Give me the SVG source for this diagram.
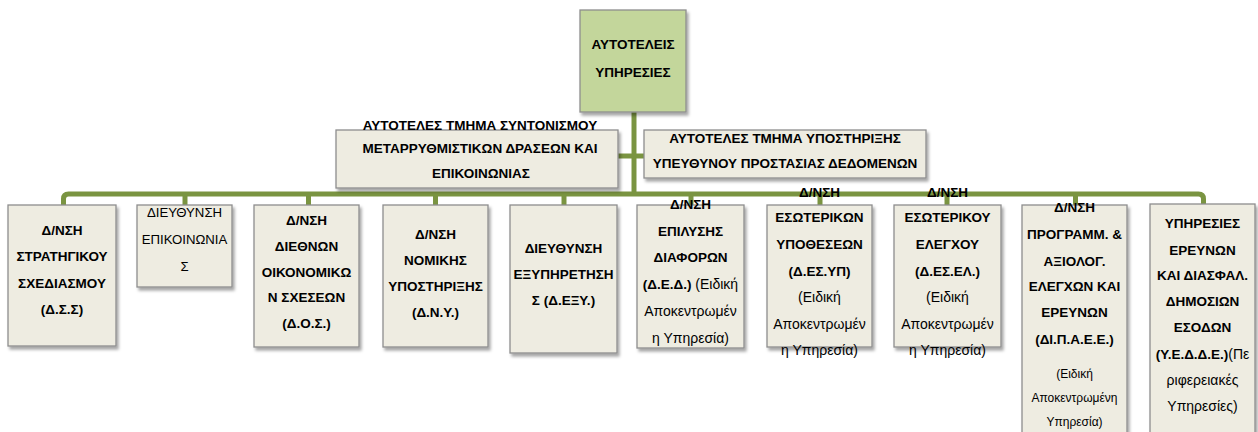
<svg xmlns="http://www.w3.org/2000/svg" width="1258" height="432" viewBox="0 0 1258 432">
<defs>
<filter id="sh" x="-10%" y="-10%" width="130%" height="130%">
<feDropShadow dx="2" dy="3" stdDeviation="1.8" flood-color="#000" flood-opacity="0.35"/>
</filter>
<style>
.box{fill:#EEECE1;stroke:#8E8E8E;stroke-width:1.3;filter:url(#sh)}
.top{fill:#C3D69B;stroke:#8E8E8E;stroke-width:1.3;filter:url(#sh)}
.con{fill:none;stroke:#7A9441;stroke-width:5}
text{font-family:"Liberation Sans",Arial,sans-serif;font-size:13.5px;fill:#000;text-anchor:middle}
.r{font-size:14px}
.r2{font-size:13.2px}
.b{font-weight:bold;font-size:13.5px}
.s{font-size:12px}
</style>
</defs>
<rect width="1258" height="432" fill="#fff"/>
<g id="connectors">
<line class="con" x1="634" y1="112" x2="634" y2="194"/>
<line class="con" x1="618" y1="156" x2="644" y2="156"/>
<path class="con" d="M63.5,205 V199 Q63.5,194 68.5,194 H1198.5 Q1203.5,194 1203.5,199 V205"/>
<line class="con" x1="185" y1="194" x2="185" y2="205"/>
<line class="con" x1="308.5" y1="194" x2="308.5" y2="205"/>
<line class="con" x1="435.5" y1="194" x2="435.5" y2="205"/>
<line class="con" x1="564" y1="194" x2="564" y2="205"/>
<line class="con" x1="691" y1="194" x2="691" y2="205"/>
<line class="con" x1="820" y1="194" x2="820" y2="205"/>
<line class="con" x1="947" y1="194" x2="947" y2="205"/>
<line class="con" x1="1075.5" y1="194" x2="1075.5" y2="205"/>
</g>
<g id="n-top">
<rect class="top" x="580" y="10" width="106" height="102"/>
<text class="b" x="633" y="49">ΑΥΤΟΤΕΛΕΙΣ</text>
<text class="b" x="633" y="77">ΥΠΗΡΕΣΙΕΣ</text>
</g>
<g id="n-mid-left">
<rect class="box" x="336" y="130" width="282" height="58"/>
<text class="b" x="480" y="130">ΑΥΤΟΤΕΛΕΣ ΤΜΗΜΑ ΣΥΝΤΟΝΙΣΜΟΥ</text>
<text class="b" x="480" y="153">ΜΕΤΑΡΡΥΘΜΙΣΤΙΚΩΝ ΔΡΑΣΕΩΝ ΚΑΙ</text>
<text class="b" x="481" y="178">ΕΠΙΚΟΙΝΩΝΙΑΣ</text>
</g>
<g id="n-mid-right">
<rect class="box" x="644" y="130" width="282" height="48"/>
<text class="b" x="785" y="143">ΑΥΤΟΤΕΛΕΣ ΤΜΗΜΑ ΥΠΟΣΤΗΡΙΞΗΣ</text>
<text class="b" x="785" y="168">ΥΠΕΥΘΥΝΟΥ ΠΡΟΣΤΑΣΙΑΣ ΔΕΔΟΜΕΝΩΝ</text>
</g>
<g id="n1">
<rect class="box" x="8" y="205" width="108" height="141"/>
<text class="b" x="62" y="235">Δ/ΝΣΗ</text>
<text class="b" x="62" y="261">ΣΤΡΑΤΗΓΙΚΟΥ</text>
<text class="b" x="62" y="288">ΣΧΕΔΙΑΣΜΟΥ</text>
<text class="b" x="62" y="314">(Δ.Σ.Σ)</text>
</g>
<g id="n2">
<rect class="box" x="137" y="205" width="95" height="82"/>
<text class="r2" x="184.5" y="217">ΔΙΕΥΘΥΝΣΗ</text>
<text class="r2" x="184.5" y="244">ΕΠΙΚΟΙΝΩΝΙΑ</text>
<text class="r2" x="184.5" y="271">Σ</text>
</g>
<g id="n3">
<rect class="box" x="254" y="205" width="105" height="142"/>
<text class="b" x="306.5" y="225">Δ/ΝΣΗ</text>
<text class="b" x="306.5" y="251">ΔΙΕΘΝΩΝ</text>
<text class="b" x="306.5" y="277">ΟΙΚΟΝΟΜΙΚΩ</text>
<text class="b" x="306.5" y="302">Ν ΣΧΕΣΕΩΝ</text>
<text class="b" x="306.5" y="328">(Δ.Ο.Σ.)</text>
</g>
<g id="n4">
<rect class="box" x="383" y="205" width="105" height="142"/>
<text class="b" x="435.5" y="239">Δ/ΝΣΗ</text>
<text class="b" x="435.5" y="265">ΝΟΜΙΚΗΣ</text>
<text class="b" x="435.5" y="291">ΥΠΟΣΤΗΡΙΞΗΣ</text>
<text class="b" x="435.5" y="317">(Δ.Ν.Υ.)</text>
</g>
<g id="n5">
<rect class="box" x="510" y="205" width="107" height="148"/>
<text class="b" x="563.5" y="253">ΔΙΕΥΘΥΝΣΗ</text>
<text class="b" x="563.5" y="279">ΕΞΥΠΗΡΕΤΗΣΗ</text>
<text class="b" x="563.5" y="305">Σ (Δ.ΕΞΥ.)</text>
</g>
<g id="n6">
<rect class="box" x="637" y="205" width="107" height="143"/>
<text class="b" x="690.5" y="209">Δ/ΝΣΗ</text>
<text class="b" x="690.5" y="236">ΕΠΙΛΥΣΗΣ</text>
<text class="b" x="690.5" y="262">ΔΙΑΦΟΡΩΝ</text>
<text class="r" x="690.5" y="289"><tspan class="b">(Δ.Ε.Δ.)</tspan> (Ειδική</text>
<text class="r" x="690.5" y="316">Αποκεντρωμέν</text>
<text class="r" x="690.5" y="343">η Υπηρεσία)</text>
</g>
<g id="n7">
<rect class="box" x="767" y="205" width="105" height="142"/>
<text class="b" x="819.5" y="197">Δ/ΝΣΗ</text>
<text class="b" x="819.5" y="222">ΕΣΩΤΕΡΙΚΩΝ</text>
<text class="b" x="819.5" y="249">ΥΠΟΘΕΣΕΩΝ</text>
<text class="b" x="819.5" y="276">(Δ.ΕΣ.ΥΠ)</text>
<text class="r" x="819.5" y="302">(Ειδική</text>
<text class="r" x="819.5" y="329">Αποκεντρωμέν</text>
<text class="r" x="819.5" y="355">η Υπηρεσία)</text>
</g>
<g id="n8">
<rect class="box" x="894" y="205" width="107" height="142"/>
<text class="b" x="947.5" y="197">Δ/ΝΣΗ</text>
<text class="b" x="947.5" y="222">ΕΣΩΤΕΡΙΚΟΥ</text>
<text class="b" x="947.5" y="249">ΕΛΕΓΧΟΥ</text>
<text class="b" x="947.5" y="276">(Δ.ΕΣ.ΕΛ.)</text>
<text class="r" x="947.5" y="302">(Ειδική</text>
<text class="r" x="947.5" y="329">Αποκεντρωμέν</text>
<text class="r" x="947.5" y="355">η Υπηρεσία)</text>
</g>
<g id="n9">
<rect class="box" x="1022" y="205" width="105" height="240"/>
<text class="b" x="1074.5" y="212">Δ/ΝΣΗ</text>
<text class="b" x="1074.5" y="239">ΠΡΟΓΡΑΜΜ. &amp;</text>
<text class="b" x="1074.5" y="266">ΑΞΙΟΛΟΓ.</text>
<text class="b" x="1074.5" y="291">ΕΛΕΓΧΩΝ ΚΑΙ</text>
<text class="b" x="1074.5" y="317">ΕΡΕΥΝΩΝ</text>
<text class="b" x="1074.5" y="344">(ΔΙ.Π.Α.Ε.Ε.)</text>
<text class="s" x="1074.5" y="378">(Ειδική</text>
<text class="s" x="1074.5" y="402">Αποκεντρωμένη</text>
<text class="s" x="1074.5" y="426">Υπηρεσία)</text>
</g>
<g id="n10">
<rect class="box" x="1150" y="204" width="105" height="240"/>
<text class="b" x="1202.5" y="228">ΥΠΗΡΕΣΙΕΣ</text>
<text class="b" x="1202.5" y="255">ΕΡΕΥΝΩΝ</text>
<text class="b" x="1202.5" y="280">ΚΑΙ ΔΙΑΣΦΑΛ.</text>
<text class="b" x="1202.5" y="306">ΔΗΜΟΣΙΩΝ</text>
<text class="b" x="1202.5" y="332">ΕΣΟΔΩΝ</text>
<text class="r" x="1202.5" y="359"><tspan class="b">(Υ.Ε.Δ.Δ.Ε.)</tspan>(Πε</text>
<text class="r" x="1202.5" y="385">ριφερειακές</text>
<text class="r" x="1202.5" y="411">Υπηρεσίες)</text>
</g>
</svg>
